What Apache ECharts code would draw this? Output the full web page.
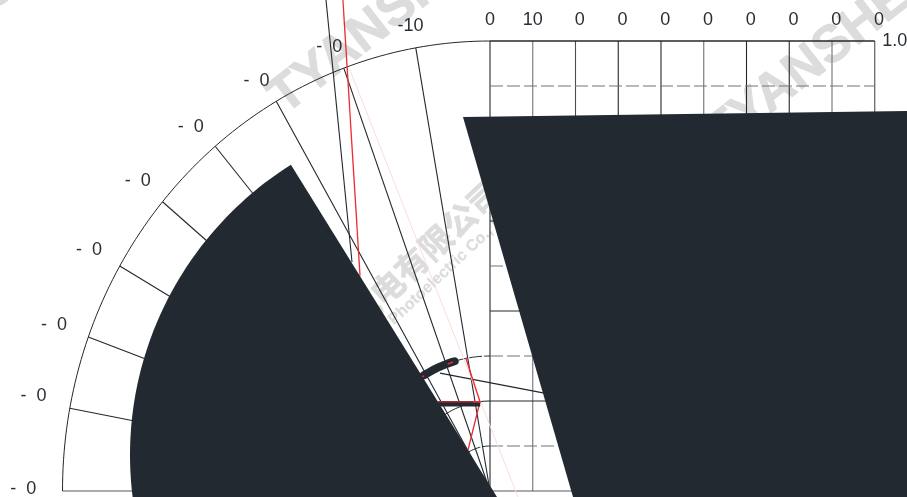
<!DOCTYPE html>
<html>
<head>
<meta charset="utf-8">
<style>html,body{margin:0;padding:0;background:#fff}#c{width:907px;height:497px}</style>
<script src="https://cdn.jsdelivr.net/npm/echarts@6/dist/echarts.min.js"></script>
</head>
<body>
<div id="c"></div>
<script>
// Axis units: x -1..0.9, y 0..1
const gridXs = [0, 0.1, 0.2, 0.3, 0.4, 0.5, 0.6, 0.7, 0.8, 0.9];
const solidYs = [0.2, 0.4, 0.6, 0.8];
const dashedYs = [0.1, 0.3, 0.5, 0.7, 0.9];
const radialAngles = [10.6, 20, 30, 40, 50, 60, 70, 80];
const topLabels = ['0', '10', '0', '0', '0', '0', '0', '0', '0', '0'];
const topLabelX = [0, 0.1, 0.21, 0.31, 0.41, 0.51, 0.61, 0.71, 0.81, 0.91];
const leftLabels = ['-10', '-  0', '-  0', '-  0', '-  0', '-  0', '-  0', '-  0', '-  0'];
const leftLabelX = [-0.186, -0.376, -0.546, -0.7, -0.824, -0.938, -1.02, -1.068, -1.092];
const leftLabelY = [1.034, 0.986, 0.912, 0.809, 0.689, 0.536, 0.369, 0.212, 0.005];
const cornerLabel = [[0.947, 0.999, '1.0']];
const redLong = [[-0.344, 1.091], [-0.304, 0.478]];
const darkLong = [[-0.3836, 1.091], [-0.3228, 0.509]];
const pinkLong = [[-0.3275, 0.9356], [0.0655, -0.0133]];
const redKink = [[-0.0568, 0.296], [-0.0234, 0.1984], [-0.0515, 0.0911]];
const thinCross = [[-0.117, 0.262], [0.124, 0.218]];
const thickBar = [[-0.122, 0.1933], [-0.023, 0.1933]];
const barRed = [[-0.122, 0.1982], [-0.023, 0.1982]];
const barRedTip = [[-0.04, 0.1982], [-0.023, 0.1982]];
const tipRed = [[-0.099, 0.282], [-0.0865, 0.2867]];
const dotRed = [[-0.159, 0.2544], [-0.154, 0.2556]];
const rightBlock = [[-0.0632, 0.8311], [0.9754, 0.8444], [0.9754, -0.0133], [0.1942, -0.0133]];
const wedgeCenter = [-0.0234, 0.08];
const wedgeRadii = [0.8187, 0.7667];
const wedgeAngles = [-8, 57.3];
const wedgeFoot = [0.0164, -0.0133];
const marks = [
  [-0.5006, 0.86, 'TYANSHENG', 52, 38, 'left', 1],
  [0.5193, 0.7778, 'TYANSHENG', 52, 38, 'left', 1],
  [-1.7076, 0.7022, 'TYANSHENG', 52, 38, 'left', 1],
  [-0.1497, 0.5222, '光电有限公司', 33, 43, 'center', 0.6],
  [-0.2316, 0.3756, 'Photoelectric Co., Ltd', 16, 43, 'left', 0.2]
];

const INK = '#22282f', BLACK = '#222931', RED = '#ee2a35', LABEL = '#2a2f36', GREY = '#6e7378';
const verticalTone = [INK, GREY, '#4a4f55', INK, INK, GREY, INK, INK, GREY, '#4a4f55'];
const rad = d => d * Math.PI / 180;
function arc(r, from, to) {
  const pts = [];
  for (let d = from; d <= to + 1e-6; d += 1) pts.push([-r * Math.cos(rad(d)), r * Math.sin(rad(d))]);
  if (pts.length && pts[pts.length - 1][0] !== -r * Math.cos(rad(to))) pts.push([-r * Math.cos(rad(to)), r * Math.sin(rad(to))]);
  return pts;
}
function line(data, color, width, z, dash, cap) {
  return {
    type: 'line', data, symbol: 'none', showSymbol: false, clip: false, silent: true, z,
    animation: false,
    lineStyle: { color, width, type: dash || 'solid', cap: cap || 'butt' }
  };
}
function poly(points, z) {
  return {
    type: 'custom', data: [0], clip: false, silent: true, z, animation: false,
    coordinateSystem: 'cartesian2d',
    renderItem: (p, api) => ({
      type: 'polygon',
      shape: { points: points.map(q => api.coord(q)) },
      style: { fill: BLACK, stroke: null }
    })
  };
}
function texts(rows, size, color, z) {
  return {
    type: 'custom', data: rows.map(r => [r[0], r[1]]), clip: false, silent: true, z, animation: false,
    coordinateSystem: 'cartesian2d',
    encode: { x: 0, y: 1 },
    renderItem: (p, api) => {
      const c = api.coord([api.value(0), api.value(1)]);
      return {
        type: 'text', x: c[0], y: c[1],
        style: { text: rows[p.dataIndex][2], fill: color, font: size + 'px "Liberation Sans", Arial, sans-serif', align: 'center', verticalAlign: 'middle' }
      };
    }
  };
}
const wm = {
  type: 'custom', data: marks.map(r => [r[0], r[1]]), clip: false, silent: true, z: 0, animation: false,
  coordinateSystem: 'cartesian2d', encode: { x: 0, y: 1 },
  renderItem: (p, api) => {
    const m = marks[p.dataIndex];
    const c = api.coord([api.value(0), api.value(1)]);
    return {
      type: 'text', x: c[0], y: c[1], rotation: rad(m[4]),
      style: { text: m[2], fill: '#dcdcdc', stroke: '#dcdcdc', lineWidth: m[6], font: 'bold ' + m[3] + 'px "Liberation Sans", "Noto Sans CJK SC", sans-serif', align: m[5], verticalAlign: 'middle' }
    };
  }
};
const wedgePts = arc(1, wedgeAngles[0], wedgeAngles[1]).map(q => [wedgeCenter[0] + q[0] * wedgeRadii[0], wedgeCenter[1] + q[1] * wedgeRadii[1]]);
wedgePts.push(wedgeFoot);

const series = [wm];
gridXs.forEach((x, i) => series.push(line([[x, 0], [x, 1]], verticalTone[i], 1.1, 2)));
solidYs.forEach(y => series.push(line([[0, y], [0.9, y]], INK, 1, 2)));
dashedYs.forEach(y => series.push(line([[0, y], [0.9, y]], '#70757a', 1.1, 2, [13, 4])));
series.push(line([[0, 1], [0.9, 1]], INK, 1.3, 2));
series.push(line([[-1, 0], [0.9, 0]], '#55595e', 1, 2));
radialAngles.forEach(a => series.push(line([[0, 0], [-Math.cos(rad(a)), Math.sin(rad(a))]], INK, 1.1, 2)));
series.push(line(arc(1, 0, 90), INK, 1, 2));
series.push(line(arc(0.1, 40, 90), INK, 1, 2, [13, 2]));
series.push(line(arc(0.2, 40, 90), INK, 1, 2));
series.push(line(arc(0.3, 74, 90), INK, 1, 2, [13, 2]));
series.push(line(darkLong, INK, 1.1, 2));
series.push(line(thinCross, INK, 1.1, 2));
series.push(line(pinkLong, '#fbdcdc', 1, 2));
series.push(line(redLong, RED, 1.3, 3));
series.push(line(redKink, RED, 1.3, 3));
series.push(poly(rightBlock, 5));
series.push(poly(wedgePts, 5));
series.push(line(arc(0.3, 59, 74), BLACK, 8, 6, 'solid', 'round'));
series.push(line(thickBar, BLACK, 5, 6));
series.push(line(barRed, '#a52a33', 1.5, 7));
series.push(line(barRedTip, RED, 1.5, 7));
series.push(line(tipRed, RED, 1.5, 7));
series.push(line(dotRed, RED, 1.5, 7));
series.push(texts(topLabelX.map((x, i) => [x, 1.046, topLabels[i]]), 18, LABEL, 8));
series.push(texts(leftLabelX.map((x, i) => [x, leftLabelY[i], leftLabels[i]]), 18, LABEL, 8));
series.push(texts(cornerLabel, 18, LABEL, 8));

const chart = echarts.init(document.getElementById('c'), null, { renderer: 'canvas' });
chart.setOption({
  animation: false,
  backgroundColor: '#fff',
  grid: { left: 62.5, right: 32.25, top: 41, bottom: 6 },
  xAxis: { type: 'value', min: -1, max: 0.9, show: false },
  yAxis: { type: 'value', min: 0, max: 1, show: false },
  series
});
</script>
</body>
</html>
